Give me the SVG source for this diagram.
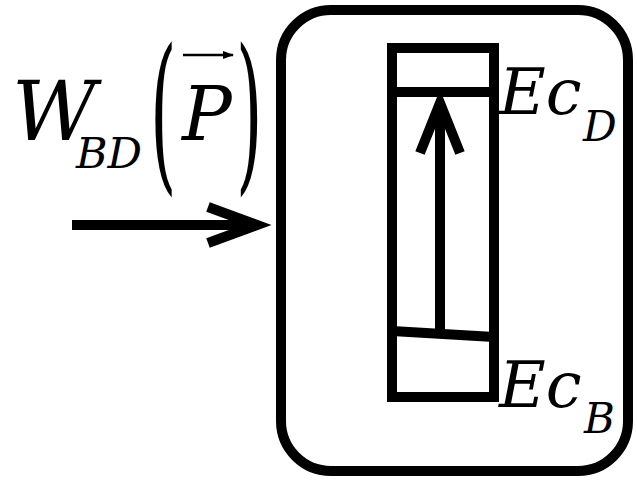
<svg xmlns="http://www.w3.org/2000/svg" width="637" height="481" viewBox="0 0 637 481">
<style>
.ln{fill:none;stroke:#000;stroke-width:10;stroke-linecap:butt}
.i{font-family:'DejaVu Serif',serif;font-style:italic;fill:#000}
.u{font-family:'DejaVu Serif',serif;fill:#000}
</style>
<defs>
<marker id="vec" markerWidth="11" markerHeight="8" refX="10" refY="4" orient="auto" markerUnits="userSpaceOnUse">
<path d="M0,0 L11,4 L0,8 Z" fill="#000"/>
</marker>
</defs>
<rect width="637" height="481" fill="#fff"/>
<g id="label-W">
<text class="i" x="12" y="140" font-size="82">W</text>
<text class="i" x="76" y="168" font-size="43">BD</text>
<text class="u" transform="translate(150,171) scale(0.4,1)" font-size="170">(</text>
<text class="u" transform="translate(236,171) scale(0.4,1)" font-size="170">)</text>
<text class="i" x="182" y="140" font-size="74">P</text>
<line x1="183" y1="55" x2="233" y2="55" stroke="#000" stroke-width="2.5" marker-end="url(#vec)"/>
</g>
<g id="system">
<rect x="281" y="10" width="347" height="461" rx="50" ry="50" class="ln"/>
</g>
<g id="levels">
<rect x="392" y="48" width="102" height="349" class="ln"/>
<line x1="392" y1="92" x2="494" y2="92" class="ln"/>
<line x1="392" y1="331" x2="494" y2="337" class="ln"/>
</g>
<g id="label-EcD">
<text class="i" x="499" y="114" font-size="64">Ec</text>
<text class="i" x="583" y="141" font-size="42">D</text>
</g>
<g id="label-EcB">
<text class="i" x="499" y="407" font-size="64">Ec</text>
<text class="i" x="584" y="433" font-size="42">B</text>
</g>
<g id="connectors">
<line x1="440" y1="332" x2="440" y2="103" class="ln" stroke-width="9"/>
<polyline points="420,153 440,103 460,153" class="ln" stroke-width="9" stroke-linejoin="miter"/>
<line x1="72" y1="225" x2="255" y2="225" class="ln"/>
<polyline points="208,207 257,225 208,243" class="ln" stroke-linejoin="miter"/>
</g>
</svg>
